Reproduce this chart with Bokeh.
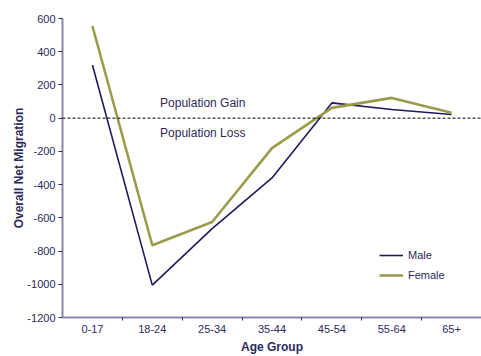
from bokeh.plotting import figure
from bokeh.models import FixedTicker, Span, Label, Legend, LegendItem, Range1d
from bokeh.embed import file_html
from bokeh.resources import INLINE

age_groups = ["0-17", "18-24", "25-34", "35-44", "45-54", "55-64", "65+"]
male = [320, -1005, -665, -360, 92, 52, 22]
female = [555, -765, -625, -180, 62, 122, 32]
y_ticks = [-1200, -1000, -800, -600, -400, -200, 0, 200, 400, 600]

TEXT = "#2d2a5c"
AXIS = "#8a87a8"
FONT = "Liberation Sans"

xs = list(range(len(age_groups)))

p = figure(width=481, height=356, output_backend="svg", toolbar_location=None,
           x_range=Range1d(-0.5, len(age_groups) - 0.5), y_range=Range1d(-1200, 600),
           min_border_left=62, min_border_right=0, min_border_top=18, min_border_bottom=38)
p.outline_line_color = None
p.xgrid.visible = False
p.ygrid.visible = False
p.background_fill_color = "white"
p.border_fill_color = "white"

p.add_layout(Span(location=0, dimension="width", line_color="black", line_dash="3 2", line_width=1))

rm = p.line(xs, male, line_color="#1e1b5c", line_width=1.6)
rf = p.line(xs, female, line_color="#9c9b4c", line_width=2.6)

# x axis
xt = FixedTicker(ticks=xs, minor_ticks=[i + 0.5 for i in xs[:-1]])
p.xaxis.ticker = xt
p.xaxis.major_label_overrides = {i: g for i, g in enumerate(age_groups)}
p.xaxis.major_tick_in = 0
p.xaxis.major_tick_out = 0
p.xaxis.minor_tick_in = 0
p.xaxis.minor_tick_out = 3
p.xaxis.minor_tick_line_color = TEXT
p.xaxis.axis_line_color = AXIS
p.xaxis.axis_line_width = 2
p.xaxis.major_label_text_font = FONT
p.xaxis.major_label_text_font_size = "11px"
p.xaxis.major_label_text_color = TEXT
p.xaxis.major_label_standoff = 4
p.xaxis.axis_label = "Age Group"
p.xaxis.axis_label_text_font = FONT
p.xaxis.axis_label_text_font_style = "bold"
p.xaxis.axis_label_text_font_size = "12px"
p.xaxis.axis_label_text_color = TEXT
p.xaxis.axis_label_standoff = 4

# y axis
p.yaxis.ticker = FixedTicker(ticks=y_ticks)
p.yaxis.major_label_overrides = {t: str(t) for t in y_ticks}
p.yaxis.minor_tick_line_color = None
p.yaxis.major_tick_in = 0
p.yaxis.major_tick_out = 4
p.yaxis.major_tick_line_color = TEXT
p.yaxis.axis_line_color = AXIS
p.yaxis.axis_line_width = 2
p.yaxis.major_label_text_font = FONT
p.yaxis.major_label_text_font_size = "11px"
p.yaxis.major_label_text_color = TEXT
p.yaxis.major_label_standoff = 3
p.yaxis.axis_label = "Overall Net Migration"
p.yaxis.axis_label_text_font = FONT
p.yaxis.axis_label_text_font_style = "bold"
p.yaxis.axis_label_text_font_size = "12px"
p.yaxis.axis_label_text_color = TEXT
p.yaxis.axis_label_standoff = -2

for txt, yv in [("Population Gain", 92), ("Population Loss", -88)]:
    p.add_layout(Label(x=1.13, y=yv, text=txt, text_font=FONT, text_font_size="12px",
                       text_color=TEXT, text_baseline="middle"))

legend = Legend(items=[LegendItem(label="Male", renderers=[rm]),
                       LegendItem(label="Female", renderers=[rf])],
                location=(317, 35), border_line_color=None, background_fill_alpha=0,
                padding=0, margin=0, spacing=6, glyph_width=24, glyph_height=14,
                label_height=14, label_standoff=5, label_text_font=FONT,
                label_text_font_size="11px", label_text_color=TEXT)
p.add_layout(legend)

open("out.html", "w").write(file_html(p, INLINE))
